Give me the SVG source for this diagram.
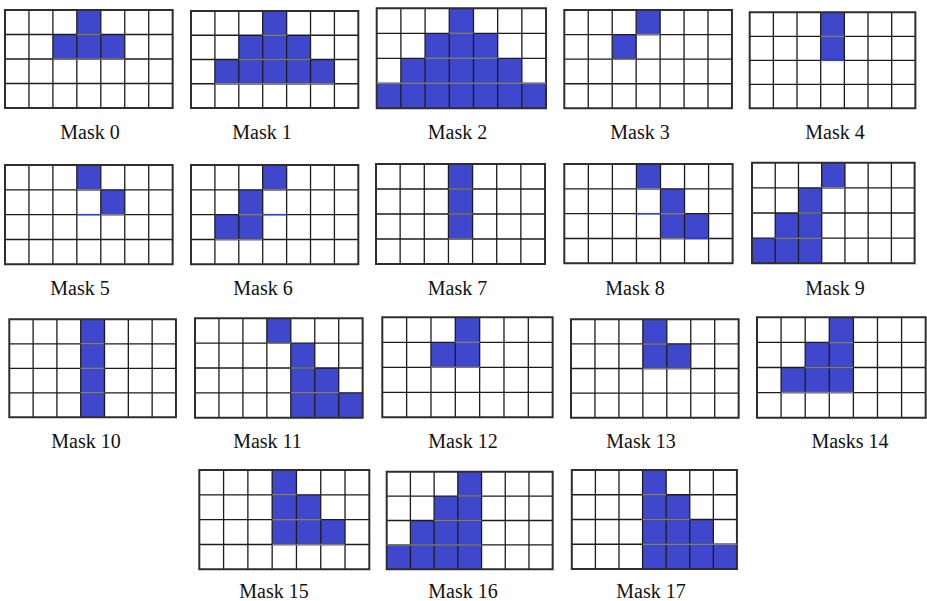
<svg xmlns="http://www.w3.org/2000/svg" xmlns:xlink="http://www.w3.org/1999/xlink" width="927" height="601" viewBox="0 0 927 601">
<style>
.b{fill:#3f48cc;stroke:none}
.g{fill:none;stroke:#1c1c1c;stroke-width:1.3;vector-effect:non-scaling-stroke}
.o{fill:none;stroke:#2e2e2e;stroke-width:2;vector-effect:non-scaling-stroke}
.h{fill:none;stroke:#7c7c7c;stroke-width:1.5;vector-effect:non-scaling-stroke}
.bl{fill:none;stroke:#2f3fe6;stroke-width:1.5;vector-effect:non-scaling-stroke}
.t{font-family:"Liberation Serif","Times New Roman",serif;font-size:20px;fill:#111;text-anchor:middle}
</style>
<defs>
<g id="grid">
<path class="g" d="M24,0V100M48,0V100M72,0V100M96,0V100M120,0V100M144,0V100M0,25H168M0,50H168M0,75H168"/>
<rect class="o" x="0" y="0" width="168" height="100"/>
</g>
</defs>
<rect width="927" height="601" fill="#fff"/>

<g id="mask0">
<g transform="translate(5,10) scale(0.998,0.98)">
<rect class="b" x="72" y="0" width="24" height="25"/><rect class="b" x="48" y="25" width="72" height="25"/>
<use href="#grid"/>
<path class="h" d="M72,25h24M48,50h72"/>
</g>
<text class="t" x="90" y="139">Mask 0</text>
</g>

<g id="mask1">
<g transform="translate(191,11) scale(0.996,0.97)">
<rect class="b" x="72" y="0" width="24" height="25"/><rect class="b" x="48" y="25" width="72" height="25"/><rect class="b" x="24" y="50" width="120" height="25"/>
<use href="#grid"/>
<path class="h" d="M72,25h24M48,50h72M24,75h120"/>
</g>
<text class="t" x="262" y="139">Mask 1</text>
</g>

<g id="mask2">
<g transform="translate(376.7,8.3) scale(1.008,1)">
<rect class="b" x="72" y="0" width="24" height="25"/><rect class="b" x="48" y="25" width="72" height="25"/><rect class="b" x="24" y="50" width="120" height="25"/><rect class="b" x="0" y="75" width="168" height="25"/>
<use href="#grid"/>
<path class="h" d="M72,25h24M48,50h72M0,75h168"/>
</g>
<text class="t" x="457.5" y="139">Mask 2</text>
</g>

<g id="mask3">
<g transform="translate(564.3,10) scale(0.998,0.983)">
<rect class="b" x="72" y="0" width="24" height="25"/><rect class="b" x="48" y="25" width="24" height="25"/>
<use href="#grid"/>
<path class="h" d="M72,25h24M48,50h24"/>
</g>
<text class="t" x="640" y="139">Mask 3</text>
</g>

<g id="mask4">
<g transform="translate(749.7,12.3) scale(0.986,0.96)">
<rect class="b" x="72" y="0" width="24" height="50"/>
<use href="#grid"/>
<path class="h" d="M72,25h24"/>
<path class="bl" d="M72,50h24"/>
</g>
<text class="t" x="835" y="139">Mask 4</text>
</g>

<g id="mask5">
<g transform="translate(5,165) scale(0.998,0.993)">
<rect class="b" x="72" y="0" width="24" height="25"/><rect class="b" x="96" y="25" width="24" height="25"/>
<use href="#grid"/>
<path class="h" d="M72,25h24M96,50h24"/>
<path class="bl" d="M72,50h24"/>
</g>
<text class="t" x="80" y="295">Mask 5</text>
</g>

<g id="mask6">
<g transform="translate(191,165) scale(0.996,0.993)">
<rect class="b" x="72" y="0" width="24" height="25"/><rect class="b" x="48" y="25" width="24" height="25"/><rect class="b" x="24" y="50" width="48" height="25"/>
<use href="#grid"/>
<path class="h" d="M72,25h24M48,50h24M24,75h48"/>
<path class="bl" d="M72,50h24"/>
</g>
<text class="t" x="263" y="295">Mask 6</text>
</g>

<g id="mask7">
<g transform="translate(376,164) scale(1.006,1)">
<rect class="b" x="72" y="0" width="24" height="75"/>
<use href="#grid"/>
<path class="h" d="M72,25h24M72,50h24M72,75h24"/>
</g>
<text class="t" x="457.5" y="295">Mask 7</text>
</g>

<g id="mask8">
<g transform="translate(564.3,164) scale(1.002,0.993)">
<rect class="b" x="72" y="0" width="24" height="25"/><rect class="b" x="96" y="25" width="24" height="25"/><rect class="b" x="96" y="50" width="48" height="25"/>
<use href="#grid"/>
<path class="h" d="M72,25h24M96,50h24M96,75h24"/>
<path class="bl" d="M72,50h24M120,75h24"/>
</g>
<text class="t" x="635" y="295">Mask 8</text>
</g>

<g id="mask9">
<g transform="translate(752,162.7) scale(0.968,1.006)">
<rect class="b" x="72" y="0" width="24" height="25"/><rect class="b" x="48" y="25" width="24" height="25"/><rect class="b" x="24" y="50" width="48" height="25"/><rect class="b" x="0" y="75" width="72" height="25"/>
<use href="#grid"/>
<path class="h" d="M72,25h24M48,50h24M24,75h48"/>
</g>
<text class="t" x="835" y="295">Mask 9</text>
</g>

<g id="mask10">
<g transform="translate(9.3,319.3) scale(0.992,0.98)">
<rect class="b" x="72" y="0" width="24" height="100"/>
<use href="#grid"/>
<path class="h" d="M72,25h24M72,50h24M72,75h24"/>
</g>
<text class="t" x="86" y="447.5">Mask 10</text>
</g>

<g id="mask11">
<g transform="translate(195,318.3) scale(0.998,0.994)">
<rect class="b" x="72" y="0" width="24" height="25"/><rect class="b" x="96" y="25" width="24" height="25"/><rect class="b" x="96" y="50" width="48" height="25"/><rect class="b" x="96" y="75" width="72" height="25"/>
<use href="#grid"/>
<path class="h" d="M72,25h24M96,50h24M96,75h48"/>
</g>
<text class="t" x="267.5" y="447.5">Mask 11</text>
</g>

<g id="mask12">
<g transform="translate(382.3,317.3) scale(1.014,1)">
<rect class="b" x="72" y="0" width="24" height="25"/><rect class="b" x="48" y="25" width="48" height="25"/>
<use href="#grid"/>
<path class="h" d="M72,25h24M48,50h48"/>
</g>
<text class="t" x="463" y="447.5">Mask 12</text>
</g>

<g id="mask13">
<g transform="translate(571,319.3) scale(0.998,0.984)">
<rect class="b" x="72" y="0" width="24" height="25"/><rect class="b" x="72" y="25" width="48" height="25"/>
<use href="#grid"/>
<path class="h" d="M72,25h24M72,50h48"/>
</g>
<text class="t" x="641" y="447.5">Mask 13</text>
</g>

<g id="mask14">
<g transform="translate(757,317.3) scale(1.004,1.004)">
<rect class="b" x="72" y="0" width="24" height="25"/><rect class="b" x="48" y="25" width="48" height="25"/><rect class="b" x="24" y="50" width="72" height="25"/>
<use href="#grid"/>
<path class="h" d="M72,25h24M48,50h48M24,75h72"/>
</g>
<text class="t" x="850" y="447.5">Masks 14</text>
</g>

<g id="mask15">
<g transform="translate(199.3,470) scale(1.012,0.993)">
<rect class="b" x="72" y="0" width="24" height="25"/><rect class="b" x="72" y="25" width="48" height="25"/><rect class="b" x="72" y="50" width="72" height="25"/>
<use href="#grid"/>
<path class="h" d="M72,25h24M72,50h48M72,75h72"/>
</g>
<text class="t" x="274" y="598">Mask 15</text>
</g>

<g id="mask16">
<g transform="translate(386.7,471.7) scale(0.988,0.976)">
<rect class="b" x="72" y="0" width="24" height="25"/><rect class="b" x="48" y="25" width="48" height="25"/><rect class="b" x="24" y="50" width="72" height="25"/><rect class="b" x="0" y="75" width="96" height="25"/>
<use href="#grid"/>
<path class="h" d="M72,25h24M48,50h48M0,75h96"/>
</g>
<text class="t" x="463" y="598">Mask 16</text>
</g>

<g id="mask17">
<g transform="translate(571.8,470) scale(0.983,0.99)">
<rect class="b" x="72" y="0" width="24" height="25"/><rect class="b" x="72" y="25" width="48" height="25"/><rect class="b" x="72" y="50" width="72" height="25"/><rect class="b" x="72" y="75" width="96" height="25"/>
<use href="#grid"/>
<path class="h" d="M72,25h24M72,50h48M72,75h96"/>
</g>
<text class="t" x="651" y="598">Mask 17</text>
</g>
</svg>
